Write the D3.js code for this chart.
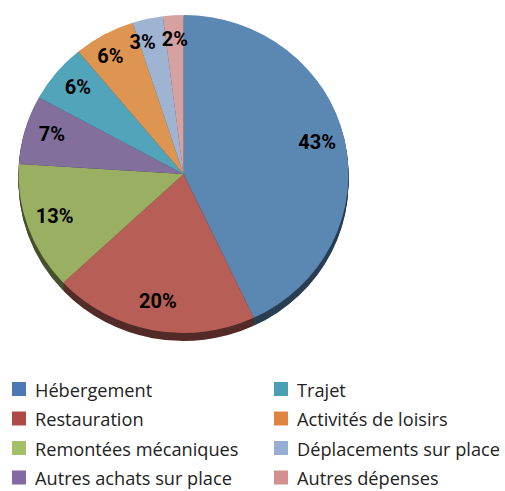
<!DOCTYPE html>
<meta charset="utf-8">
<script src="https://d3js.org/d3.v7.min.js"></script>
<style>
  body { margin: 0; background: #fff; }
</style>
<body>
<script>

// categories, values (percent) and colours
var categories = ["Hébergement", "Restauration", "Remontées mécaniques", "Autres achats sur place",
                  "Trajet", "Activités de loisirs", "Déplacements sur place", "Autres dépenses"];
var values = [43, 20, 13, 7, 6, 6, 3, 2];
var faceColors   = ["#5b87b3", "#b75e57", "#9aaf62", "#826f9c", "#52a4ba", "#dd9551", "#9fb3d3", "#d6a1a1"];
var legendColors = ["#4b79b3", "#b04845", "#a3bf6a", "#8468a3", "#4a9fb5", "#de8541", "#95aed4", "#d48f8f"];

var width = 505, height = 491;
var cx = 183.5, cy = 174, rx = 165, ry = 159, depth = 8;

var svg = d3.select("body").append("svg")
    .attr("width", width)
    .attr("height", height);

var data = categories.map(function(c, i) { return { name: c, value: values[i], i: i }; });

var pie = d3.pie().sort(null).value(function(d) { return d.value; });
var arcs = pie(data);

var arc = d3.arc().innerRadius(0).outerRadius(rx);

// pie is drawn as a circle then squashed a little vertically
var g = svg.append("g")
    .attr("transform", "translate(" + cx + "," + cy + ")");

// extruded side, a dark copy shifted down one pixel at a time
for (var k = depth; k >= 1; k--) {
    g.append("g")
        .attr("transform", "translate(0," + k + ") scale(1," + (ry / rx) + ")")
        .selectAll("path")
        .data(arcs)
        .enter().append("path")
        .attr("d", arc)
        .style("fill", function(d) { return d3.color(faceColors[d.index]).darker(2.2); });
}

// top face
g.append("g")
    .attr("transform", "scale(1," + (ry / rx) + ")")
    .selectAll("path")
    .data(arcs)
    .enter().append("path")
    .attr("d", arc)
    .style("fill", function(d) { return faceColors[d.index]; });

// percent labels
var labelArc = d3.arc().innerRadius(137).outerRadius(137);
var labels = g.selectAll("text.lbl")
    .data(arcs)
    .enter().append("text")
    .attr("class", "lbl")
    .attr("x", function(d) { return labelArc.centroid(d)[0]; })
    .attr("y", function(d) { return labelArc.centroid(d)[1] * ry / rx - 3; })
    .attr("dy", "0.36em")
    .attr("text-anchor", "middle")
    .style("font-family", "'Liberation Sans Narrow', Roboto, sans-serif")
    .style("font-weight", "700")
    .style("font-size", "20px")
    .style("fill", "#000")
    .text(function(d) { return d.data.value + "%"; });

// push small labels near the top apart (going backwards from the last one)
var nodes = labels.nodes();
for (var j = nodes.length - 2; j >= 0; j--) {
    var a = nodes[j].getBBox(), b = nodes[j + 1].getBBox();
    var overlapX = a.x + a.width + 6 - b.x;
    var overlapY = Math.min(a.y + a.height, b.y + b.height) - Math.max(a.y, b.y);
    if (overlapX > 0 && overlapY > 0 && a.x < b.x) {
        d3.select(nodes[j]).attr("x", +d3.select(nodes[j]).attr("x") - overlapX);
    }
}

// legend, two columns of four
var legend = svg.append("g");
var item = legend.selectAll("g")
    .data(data)
    .enter().append("g")
    .attr("transform", function(d) {
        var col = Math.floor(d.i / 4), row = d.i % 4;
        return "translate(" + (12 + col * 262) + "," + (382 + row * 29.5) + ")";
    });

item.append("rect")
    .attr("width", 14)
    .attr("height", 14)
    .style("fill", function(d) { return legendColors[d.i]; });

item.append("text")
    .attr("x", 23)
    .attr("y", 14.5)
    .style("font-family", "'Open Sans', sans-serif")
    .style("font-size", "18.2px")
    .style("fill", "#222")
    .text(function(d) { return d.name; });

</script>
</body>
